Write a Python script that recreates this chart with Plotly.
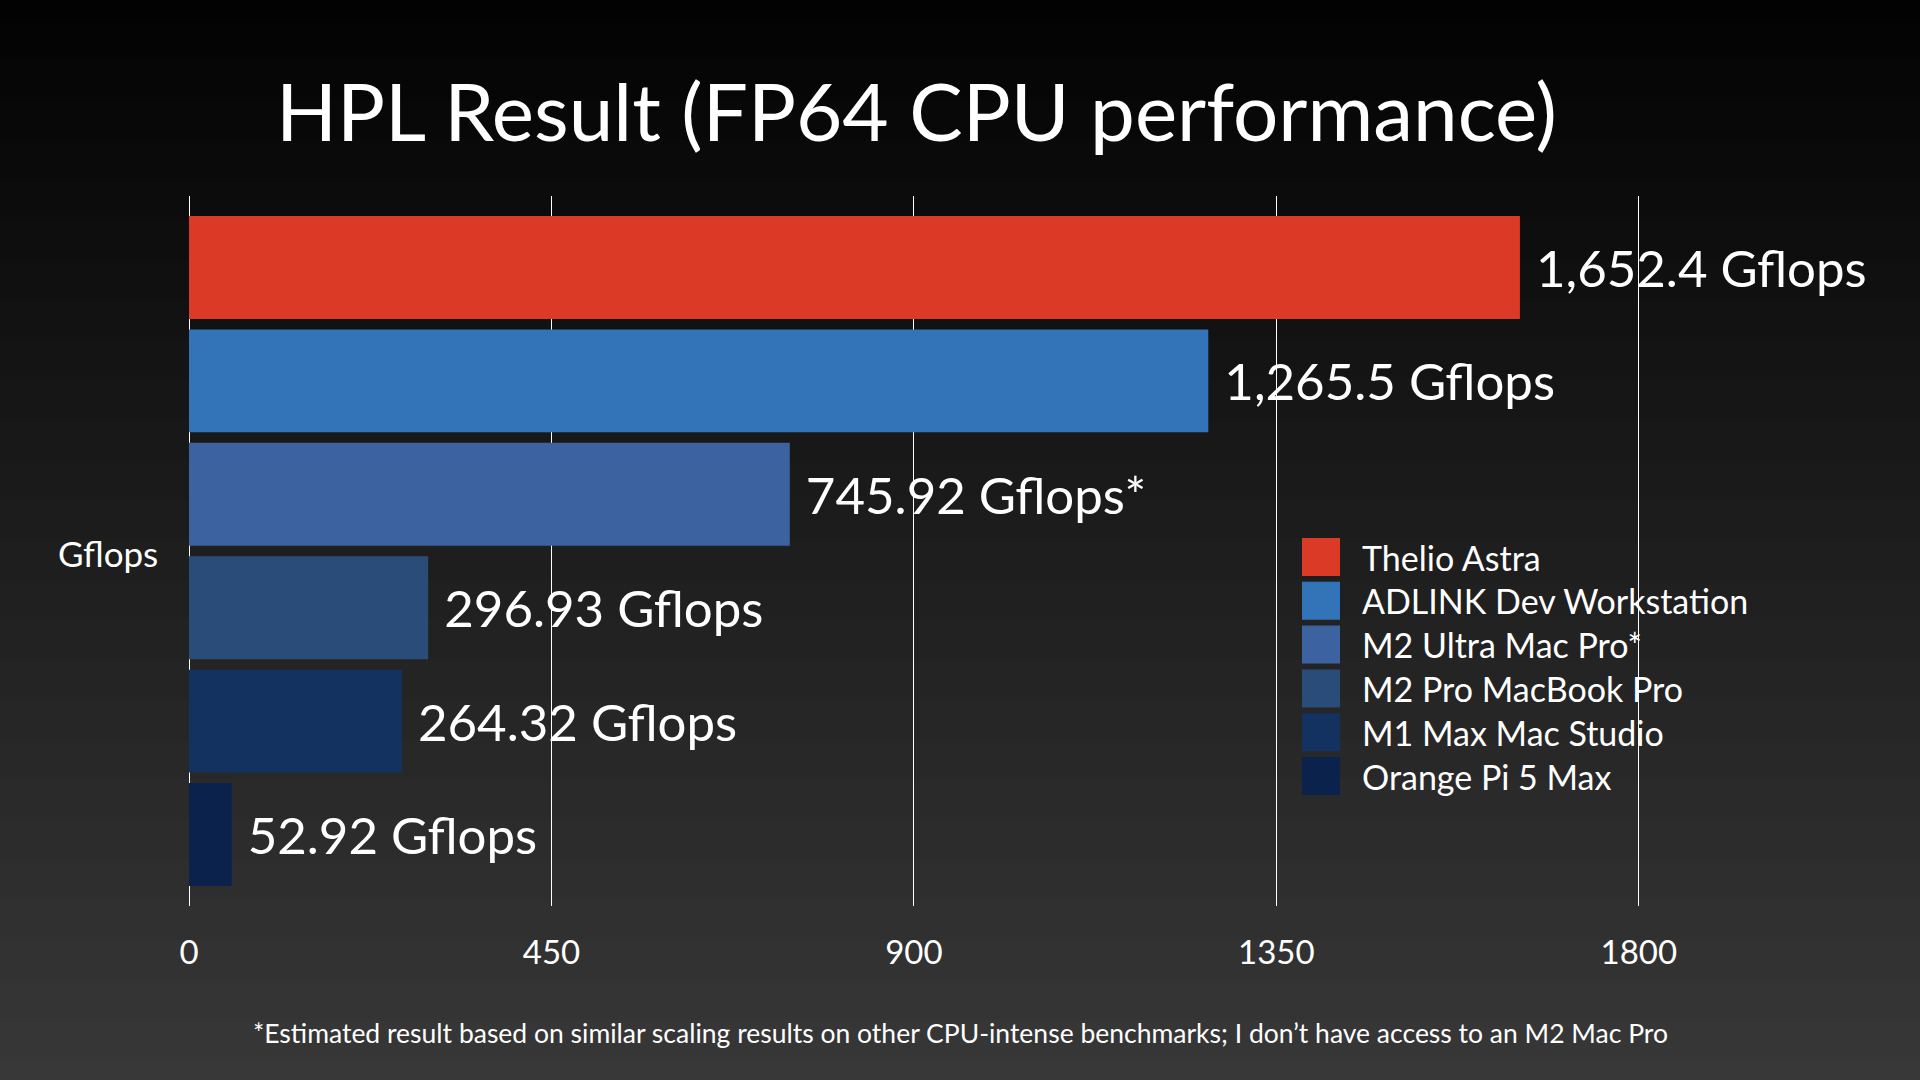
import plotly.graph_objects as go

# ---- data ----
devices = ["Thelio Astra", "ADLINK Dev Workstation", "M2 Ultra Mac Pro*",
           "M2 Pro MacBook Pro", "M1 Max Mac Studio", "Orange Pi 5 Max"]
gflops = [1652.4, 1265.5, 745.92, 296.93, 264.32, 52.92]
estimated = [False, False, True, False, False, False]
colors = ["#DB3A27", "#3374B8", "#3C63A0", "#2A4C79", "#13325F", "#0B224D"]
x_ticks = [0, 450, 900, 1350, 1800]

title = "HPL Result (FP64 CPU performance)"
footnote = ("*Estimated result based on similar scaling results on other CPU-intense "
            "benchmarks; I don\u2019t have access to an M2 Mac Pro")

FONT = "Lato"
W, H = 1920, 1080
L, R, T, B = 189, 40, 196, 174
PW, PH = W - L - R, H - T - B


def px(x):
    return (x - L) / PW


def py(y):
    return (H - B - y) / PH


labels = ["\u00a0" + f"{v:,} Gflops" + ("*" if e else "") for v, e in zip(gflops, estimated)]

fig = go.Figure()
fig.add_trace(go.Bar(
    y=devices, x=gflops, orientation="h",
    marker=dict(color=colors, line=dict(width=0)),
    text=labels, textposition="outside",
    textfont=dict(family=FONT, size=51, color="white"),
    constraintext="none", cliponaxis=False,
    hoverinfo="skip", showlegend=False,
))

shapes = []
# background vertical gradient
nb = 54
for i in range(nb):
    y0 = i * H / nb
    y1 = (i + 1) * H / nb
    v = int(round(2 + 54 * ((y0 + y1) / 2) / H))
    shapes.append(dict(type="rect", xref="paper", yref="paper", layer="below",
                       x0=px(0), x1=px(W), y0=py(y1 + 0.5), y1=py(y0 - 0.5),
                       fillcolor=f"rgb({v},{v},{v})", line=dict(width=0)))

annotations = [
    dict(text=title, xref="paper", yref="paper", x=px(916), y=py(110),
         xanchor="center", yanchor="middle", showarrow=False,
         font=dict(family=FONT, size=80, color="white")),
    dict(text=footnote, xref="paper", yref="paper", x=px(960), y=py(1033),
         xanchor="center", yanchor="middle", showarrow=False,
         font=dict(family=FONT, size=26.5, color="white")),
    dict(text="Gflops", xref="paper", yref="paper", x=px(108), y=py(553),
         xanchor="center", yanchor="middle", showarrow=False,
         font=dict(family=FONT, size=35, color="white")),
]

# custom legend (large swatches)
sw, pitch, top, lx, tx = 38, 43.8, 538, 1302, 1360
for i, (name, c) in enumerate(zip(devices, colors)):
    y0 = top + i * pitch
    shapes.append(dict(type="rect", xref="paper", yref="paper",
                       x0=px(lx), x1=px(lx + sw), y0=py(y0 + sw), y1=py(y0),
                       fillcolor=c, line=dict(width=0)))
    annotations.append(dict(text=name, xref="paper", yref="paper",
                            x=px(tx), y=py(y0 + sw / 2), xanchor="left", yanchor="middle",
                            showarrow=False, font=dict(family=FONT, size=34, color="white")))

fig.update_layout(
    width=W, height=H,
    margin=dict(l=L, r=R, t=T, b=B, pad=0),
    paper_bgcolor="#1a1a1a", plot_bgcolor="rgba(0,0,0,0)",
    bargap=0.092,
    shapes=shapes, annotations=annotations,
    showlegend=False,
    xaxis=dict(range=[0, PW / (1449.8 / 1800)], tickvals=x_ticks,
               ticktext=[str(t) for t in x_ticks],
               showgrid=True, gridcolor="white", gridwidth=1,
               zeroline=True, zerolinecolor="white", zerolinewidth=1,
               showline=False, ticks="", ticklabelstandoff=24,
               tickfont=dict(family=FONT, size=33, color="white")),
    yaxis=dict(categoryorder="array", categoryarray=devices,
               range=[5.5 + 0.13, -0.5 - 0.13], showticklabels=False,
               showgrid=False, zeroline=False, showline=False, ticks=""),
    font=dict(family=FONT, color="white"),
)

fig.write_html("out.html",
               config={"displayModeBar": False},
               post_script="document.body.style.margin='0';"
                           "document.body.style.overflow='hidden';"
                           "document.body.style.background='#1a1a1a';")
